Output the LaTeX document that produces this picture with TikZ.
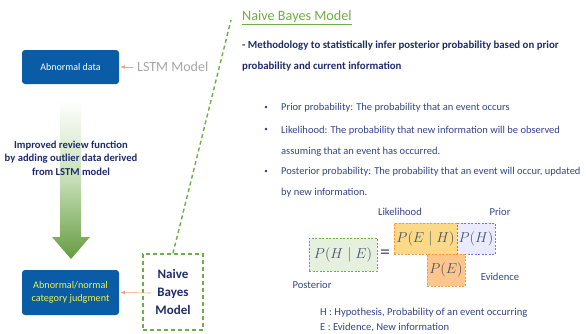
\documentclass[tikz,border=0pt]{standalone}
\usepackage{fontspec}
\setmainfont{Carlito}
\usetikzlibrary{calc}
\definecolor{boxblue}{HTML}{0B5CA6}
\definecolor{navy}{HTML}{1F2C6B}
\definecolor{bodynavy}{HTML}{34438A}
\definecolor{nbgreen}{HTML}{70AD47}
\definecolor{arrorange}{HTML}{F4A070}
\definecolor{lstmgrey}{HTML}{A6A6A6}
\definecolor{judgeyellow}{HTML}{EEF24A}
\definecolor{eqtext}{HTML}{44546A}
\tikzset{
	bluebox/.style={fill=boxblue, rounded corners=3pt, minimum width=97pt, minimum height=34pt, inner sep=0pt},
	orangearrow/.style={draw=arrorange, line width=0.6pt, -{latex}, shorten >=1pt},
	greendash/.style={draw=nbgreen, line width=1.4pt, dash pattern=on 4pt off 3pt},
	bodytext/.style={text=bodynavy, font=\fontsize{10.5}{21}\selectfont, inner sep=0pt, align=left},
	bulletdot/.style={text=bodynavy, font=\fontsize{7}{8}\selectfont, inner sep=0pt},
	eqbox/.style={line width=0.8pt, dash pattern=on 2pt off 1.5pt, inner sep=0pt, font=\fontsize{14.5}{14.5}\selectfont},
	eqlabel/.style={text=bodynavy, font=\fontsize{10.6}{12}\selectfont, inner sep=0pt}
}

\begin{document}
\begin{tikzpicture}[x=1pt, y=-1pt]
		%%%%% START %%%%%
		\useasboundingbox (0, 0) rectangle (586, 333);
		
		% left column
		\shade[top color=white, bottom color=nbgreen!90!black, middle color=nbgreen!40]
			(60, 100) -- (81, 100) -- (81, 237) -- (90, 237) -- (71, 259) -- (52, 237) -- (60, 237) -- cycle;
		\node[text=navy, font=\bfseries\fontsize{10.6}{13.5}\selectfont, align=center] (improve) at (71, 158)
			{Improved review function\\by adding outlier data derived\\from LSTM model};
		
		\node[bluebox, text=white, font=\fontsize{10}{11}\selectfont] (abn) at (70.5, 67) {Abnormal data};
		\node[text=lstmgrey, font=\fontsize{14}{16}\selectfont, anchor=west, inner sep=0pt] (lstm) at (137, 67) {LSTM Model};
		\draw[orangearrow] ($(lstm.west)+(-4, 0)$) -- (abn.east);
		
		\node[bluebox, minimum height=45pt, text=judgeyellow, font=\fontsize{10.2}{12.5}\selectfont, align=center] (judge) at (70.5, 292.5)
			{Abnormal/normal\\category judgment};
		
		\node[greendash, minimum width=60pt, minimum height=76pt, inner sep=0pt, text=navy, align=center,
			font=\bfseries\fontsize{13}{18}\selectfont] (nbm) at (173, 292) {Naive\\Bayes\\Model};
		\coordinate (nbarr) at (151, 293);
		\draw[orangearrow] (nbarr) -- (judge.east);
		
		\coordinate (linetop) at (231, 20);
		\draw[greendash] (nbm.north) -- (linetop);
		
		% right column
		\node[text=nbgreen, font=\fontsize{14.2}{16}\selectfont, anchor=west, inner sep=0pt] (title) at (242, 18) {\underline{Naive Bayes Model}};
		\node[text=navy, font=\bfseries\fontsize{10.8}{21}\selectfont, anchor=west, inner sep=0pt, align=left] (method) at (242, 56.5)
			{- Methodology to statistically infer posterior probability based on prior\\probability and current information};
		
		\node[bulletdot] (b1) at (266, 108) {•};
		\node[bodytext, anchor=west] (prior) at (281, 108) {Prior probability: The probability that an event occurs};
		\node[bulletdot] (b2) at (266, 130) {•};
		\node[bodytext, anchor=west] (likely) at (281, 141)
			{Likelihood: The probability that new information will be observed\\assuming that an event has occurred.};
		\node[bulletdot] (b3) at (266, 172) {•};
		\node[bodytext, anchor=west] (poster) at (281, 182.5)
			{Posterior probability: The probability that an event will occur, updated\\by new information.};
		
		% equation
		\node[eqbox, draw=nbgreen, fill=nbgreen!18, minimum width=68pt, minimum height=33pt] (pHE) at (343, 254.5)
			{\color{eqtext}$P(H\mid E)$};
		\node[text=eqtext, font=\fontsize{20}{20}\selectfont, inner sep=0pt] (eq) at (385, 254) {=};
		\node[eqbox, draw=orange!80, fill=yellow!40!orange!45, minimum width=63pt, minimum height=31pt] (pEH) at (425.5, 238.5)
			{\color{eqtext}$P(E\mid H)$};
		\node[eqbox, draw=blue!55, fill=blue!8, minimum width=38pt, minimum height=31pt] (pH) at (476, 238.5)
			{\color{eqtext}$P(H)$};
		\node[eqbox, draw=orange!80, fill=orange!45, minimum width=38pt, minimum height=32pt] (pE) at (446, 270)
			{\color{eqtext}$P(E)$};
		
		\node[eqlabel] (likelab) at (400, 212) {Likelihood};
		\node[eqlabel] (priorlab) at (500, 212) {Prior};
		\node[eqlabel] (evidlab) at (500, 277) {Evidence};
		\node[eqlabel] (postlab) at (312, 285) {Posterior};
		
		\node[eqlabel, anchor=west] (hdef) at (320, 313) {H : Hypothesis, Probability of an event occurring};
		\node[eqlabel, anchor=west] (edef) at (320, 327) {E : Evidence, New information};
		%%%%% END %%%%%
\end{tikzpicture}
\end{document}
